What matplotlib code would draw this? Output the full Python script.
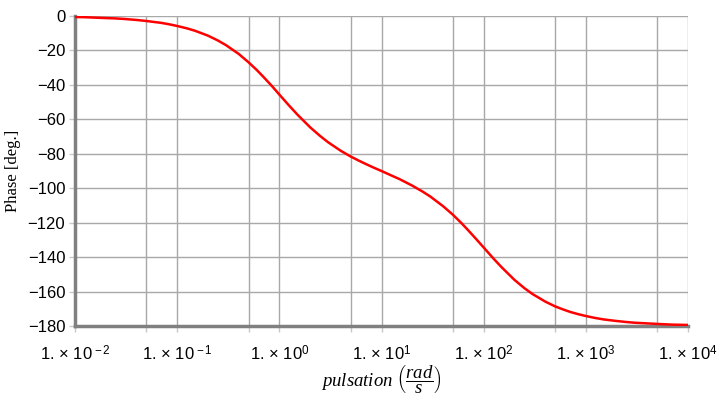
import matplotlib
matplotlib.use("Agg")
import matplotlib.pyplot as plt
import numpy as np

# Frequency (rad/s) and phase (deg)
omega = [0.01, 0.0125, 0.015, 0.02, 0.025, 0.03, 0.04, 0.05, 0.06, 0.07, 0.085,
         0.1, 0.125, 0.15, 0.2, 0.25, 0.3, 0.4, 0.5, 0.6, 0.7, 0.85,
         1, 1.25, 1.5, 2, 2.5, 3, 4, 5, 6, 7, 8.5,
         10, 12.5, 15, 20, 25, 30, 40, 50, 60, 70, 85,
         100, 125, 150, 200, 250, 300, 400, 500, 600, 700, 850,
         1000, 1250, 1500, 2000, 2500, 3000, 5000, 7000, 10000]
phase = [-0.6, -0.7, -0.9, -1.2, -1.4, -1.7, -2.3, -2.9, -3.5, -4.0, -4.9,
         -5.8, -7.2, -8.6, -11.4, -14.2, -16.9, -22.0, -26.9, -31.3, -35.4, -40.8,
         -45.6, -52.1, -57.2, -64.6, -69.6, -73.3, -78.3, -81.6, -84.0, -85.9, -88.2,
         -90.0, -92.6, -94.7, -98.5, -101.8, -104.8, -110.4, -115.4, -120.0, -124.2, -129.7,
         -134.4, -140.9, -145.9, -153.2, -158.0, -161.4, -165.8, -168.6, -170.4, -171.8, -173.2,
         -174.2, -175.4, -176.2, -177.1, -177.7, -178.1, -178.8, -179.2, -179.4]

xticks_major = [1e-2, 1e-1, 1e0, 1e1, 1e2, 1e3, 1e4]
xtick_labels = [r"$1.\times\,10^{\,-2}$", r"$1.\times\,10^{\,-1}$", r"$1.\times\,10^{0}$",
                r"$1.\times\,10^{1}$", r"$1.\times\,10^{2}$", r"$1.\times\,10^{3}$", r"$1.\times\,10^{4}$"]
xticks_minor = [5e-2, 5e-1, 5e0, 5e1, 5e2, 5e3]
yticks = [0, -20, -40, -60, -80, -100, -120, -140, -160, -180]

plt.rcParams['mathtext.fontset'] = 'custom'
plt.rcParams['mathtext.rm'] = 'Liberation Sans'
plt.rcParams['mathtext.it'] = 'Liberation Serif:italic'
plt.rcParams['font.family'] = ['Liberation Sans', 'DejaVu Sans']

fig = plt.figure(figsize=(7.23, 4.0), dpi=100)
ax = fig.add_axes([75/723, 74/400, (688-75)/723, (326-16)/400])

ax.plot(omega, phase, color='#ff0000', lw=1.8, zorder=3)
ax.set_xscale('log')
ax.set_xlim(1e-2, 1e4)
ax.set_ylim(-180, 0)

ax.set_xticks(xticks_major)
ax.set_xticklabels(xtick_labels, fontsize=12)
ax.set_xticks(xticks_minor, minor=True)
ax.set_xticklabels([], minor=True)
ax.set_yticks(yticks)
ax.set_yticklabels([str(v).replace('-', '\u2212') for v in yticks], fontsize=12)

ax.grid(True, which='both', color='#a8a8a8', lw=1.0)
ax.tick_params(axis='both', which='both', color='#c8c8c8', length=4, width=1, direction='out')
ax.tick_params(axis='x', which='both', pad=9)
ax.tick_params(axis='y', pad=3)

for s in ['top', 'right']:
    ax.spines[s].set_visible(False)
for s in ['left', 'bottom']:
    ax.spines[s].set_color('#808080')
    ax.spines[s].set_linewidth(2.5)

ax.set_ylabel('Phase [deg.]', family='Liberation Serif', fontsize=12, labelpad=5)
ax.set_xlabel(r"$\mathit{pulsation}\ \left(\dfrac{\mathit{rad}}{\mathit{s}}\right)$", fontsize=13.5, labelpad=0)

fig.savefig('out.png', dpi=100)
